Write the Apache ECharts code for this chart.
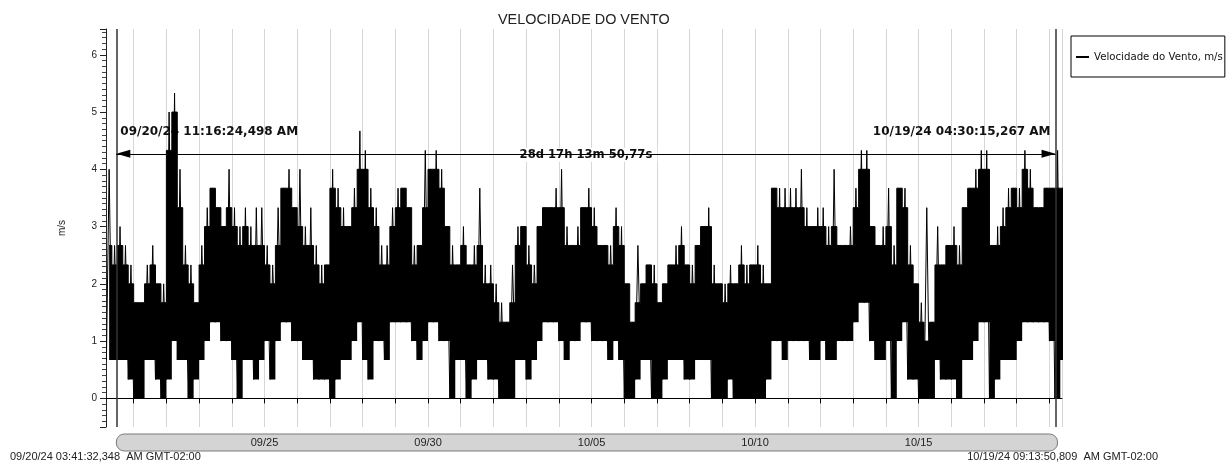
<!DOCTYPE html>
<html><head><meta charset="utf-8">
<script src="https://cdn.jsdelivr.net/npm/echarts@6/dist/echarts.min.js"></script>
<style>html,body{margin:0;padding:0;background:#fff;}#c{width:1226px;height:462px;}</style>
</head><body><div id="c"></div>
<script>
// ---- data ----
const chartTitle = 'VELOCIDADE DO VENTO';
const seriesName = 'Velocidade do Vento, m/s';
const yAxisName = 'm/s';
const firstBinUTC = [2024, 8, 20, 4, 0, 0]; // first 4-hour bin (UTC)
const binHours = 4;
// per 4-hour bin: bottom of the trace (m/s)
const lows = [
0.67,0.67,0.67,0.67,0.33,0,0,0.67,0.67,0.33,
0,0.33,1,0.67,0.67,0,0.33,0.67,1,1.33,
1.33,1,1,0.67,0,0.67,0.67,0.33,0.67,1,
0.33,1,1.33,1.33,1,1,0.67,0.67,0.33,0.33,
0.33,0,0.33,0.67,0.67,1,1.33,0.67,0.33,1,
1,0.67,1.33,1.33,1.33,1.33,1,0.67,1,1.33,
1.33,1,1,0,0.67,0.67,0,0.33,0.67,0.67,
0.33,0.33,0,0,0,0.67,0.67,0.33,0.67,1,
1.33,1.33,1.33,1,0.67,1,1,1.33,1.33,1,
1,1,0.67,1,0.67,0,0,0.33,0.67,0.67,
0,0,0.33,0.67,0.67,0.67,0.33,0.33,0.67,0.67,
0.67,0,0,0,0.33,0,0,0,0,0,
0,0.33,1,1,0.67,1,1,1,1,0.67,
0.67,1,0.67,0.67,1,1,1,1.33,1.67,1.67,
1,0.67,0.67,1,0,1,1.33,0.33,0.33,0,
0,0,0.67,0.33,0.33,0.33,0,0.67,0.67,1,
1.33,1.33,0,0.33,0.67,0.67,0.67,1,1.33,1.33,
1.33,1.33,1.33,1,0,0.67
];
// per bin: top of the solid core of the trace (m/s)
const highs = [
2.67,2.33,2.67,2.33,2,1.67,1.67,2,2.33,2,
1.67,4.33,5,3.33,2.33,2,1.67,2.33,3,3.67,
3.33,3,3.33,3,2.67,3,2.67,2.67,2.67,2.33,
2,2.67,3.67,3.67,3.33,3,2.67,2.67,2.33,2,
2.33,3.67,3.33,3,3,3.33,4,4,3.33,3,
2.33,2.33,3,3.33,3.67,3.33,2.33,2.67,3.33,4,
4,3.67,3,2.33,2.33,2.67,2.33,2.33,2.67,2,
2,1.67,1.33,1.33,1.67,2.67,3,2.33,2,3,
3.33,3.33,3.33,3.33,2.67,2.67,2.67,3.33,3.33,3,
2.67,2.67,2.33,3,2.67,2,1.33,1.67,2,2.33,
2,1.67,2,2.33,2.33,2.67,2.33,2,2.67,3,
3,2,2,1.67,2,2,2.33,2,2.33,2.33,
2,2,3.67,3.33,3.33,3.33,3.33,3.33,3,3,
3,3,2.67,3,2.67,2.67,2.67,3.33,4,4,
3,2.67,2.67,3,2.33,3.67,3.33,2.33,2,1.33,
1,1.33,2.33,2.33,2.67,2.67,2.33,3.33,3.67,3.67,
4,4,2.67,2.67,3,3.33,3.67,3.33,4,3.67,
3.33,3.33,3.67,3.67,3.67,3.67
];
// per bin: tip of the highest thin spike (m/s)
const peaks = [
4,2.67,3,2.67,2.33,1.67,1.67,2.33,2.67,2,
2,5,5.33,4,2.67,2.33,1.67,2.67,3.33,3.67,
3.33,3,4,3.33,3,3.33,3,3.33,3.33,2.67,
2.33,3.33,3.67,4,3.33,4,3,3.33,2.67,2.33,
2.33,4,3.67,3.33,3,3.67,4.67,4.33,3.67,3.33,
2.67,2.67,3.33,3.67,3.67,3.33,2.67,2.67,4.33,4,
4.33,4,3,2.67,2.33,3,2.33,2.67,3.67,2.33,
2.33,2,1.67,1.33,2.33,3,3,2.67,2.33,3,
3.33,3.33,3.67,4,3,2.67,3,3.33,3.67,3.33,
2.67,2.67,2.67,3.33,3,2,1.33,2.67,2,2.33,
2.33,1.67,2,2.33,2.67,3,2.33,2.33,2.67,3,
3.33,2.33,2,2,2.33,2,2.67,2.33,2.33,2.67,
2.33,2,3.67,3.67,3.67,3.67,3.67,4,3.33,3,
3.33,3.33,3,4,2.67,2.67,3,3.67,4.33,4.33,
3,2.67,3,3.67,2.67,3.67,3.67,2.67,2,1.67,
3.33,1.33,3,2.33,2.67,3,2.67,3.33,3.67,4,
4.33,4.33,2.67,3,3.33,3.67,3.67,3.67,4.33,4,
3.33,3.33,3.67,3.67,4.33,3.67
];
const rangeStartUTC = [2024, 8, 20, 3, 41, 32, 348];
const rangeEndUTC = [2024, 9, 19, 9, 13, 50, 809];
const rangeStartLabel = '09/20/24 03:41:32,348  AM GMT-02:00';
const rangeEndLabel = '10/19/24 09:13:50,809  AM GMT-02:00';
const cursorUTC = [[2024, 8, 20, 11, 16, 24, 498], [2024, 9, 19, 4, 30, 15, 267]];
const cursorLabels = ['09/20/24 11:16:24,498 AM', '10/19/24 04:30:15,267 AM'];
const spanLabel = '28d 17h 13m 50,77s';
const arrowLevel = 4.27;
const dayLabels = ['09/25', '09/30', '10/05', '10/10', '10/15'];
const yMin = -0.5, yMax = 6.45;

// ---- build ----
const H = 3600e3;
const t0 = Date.UTC(...firstBinUTC);
const binMid = i => t0 + (i + 0.5) * binHours * H;
const spikeData = [], baseData = [], bandData = [];
lows.forEach((lo, i) => {
  spikeData.push([t0 + i * binHours * H, lo]);
  spikeData.push([binMid(i), peaks[i]]);
  baseData.push([binMid(i), lo]);
  bandData.push([binMid(i), +(highs[i] - lo).toFixed(2)]);
});
const xMin = Date.UTC(...rangeStartUTC), xMax = Date.UTC(...rangeEndUTC);
const c1 = Date.UTC(...cursorUTC[0]), c2 = Date.UTC(...cursorUTC[1]);
const pad = n => (n < 10 ? '0' : '') + n;

const chart = echarts.init(document.getElementById('c'), null, {renderer: 'canvas'});
const baseFont = '"Liberation Sans", Arial, sans-serif';
chart.setOption({
  animation: false,
  useUTC: true,
  backgroundColor: '#fff',
  title: {text: chartTitle, left: 498, top: 13, padding: 0,
    textStyle: {fontFamily: baseFont, fontSize: 14.4, fontWeight: 'normal', color: '#222'}},
  legend: {left: 1071, top: 36, orient: 'vertical', borderColor: '#000', borderWidth: 1,
    padding: [16, 2, 15, 5], itemWidth: 13, itemHeight: 2, icon: 'rect',
    data: [{name: seriesName, itemStyle: {color: '#000'}}],
    textStyle: {fontFamily: '"DejaVu Sans", sans-serif', fontSize: 10.2, color: '#111'}},
  grid: {left: 106, right: 164, top: 29, bottom: 35},
  xAxis: {type: 'time', min: xMin, max: xMax, minInterval: 24 * H, maxInterval: 24 * H,
    axisLine: {lineStyle: {color: '#000', width: 1}},
    axisTick: {show: true, length: 5, lineStyle: {color: '#000'}},
    splitLine: {show: true, lineStyle: {color: '#d6d6d6', width: 1}},
    axisLabel: {margin: 10, fontFamily: baseFont, fontSize: 11, color: '#222', hideOverlap: false,
      formatter: v => {
        const d = new Date(v);
        if (d.getUTCHours() || d.getUTCMinutes() || d.getUTCSeconds()) return '';
        const s = pad(d.getUTCMonth() + 1) + '/' + pad(d.getUTCDate());
        return dayLabels.includes(s) ? s : '';
      }}},
  yAxis: {type: 'value', min: yMin, max: yMax, minInterval: 1, maxInterval: 1,
    name: yAxisName, nameLocation: 'middle', nameGap: 39,
    nameTextStyle: {fontFamily: baseFont, fontSize: 10, color: '#222'},
    axisLine: {show: true, lineStyle: {color: '#222'}},
    axisTick: {show: true, length: 6, lineStyle: {color: '#222'}},
    minorTick: {show: true, splitNumber: 10, length: 4, lineStyle: {color: '#444'}},
    splitLine: {show: false},
    axisLabel: {margin: 9, fontFamily: baseFont, fontSize: 10, color: '#222',
      showMinLabel: false, showMaxLabel: false}},
  series: [
    {name: 'base', type: 'line', stack: 'band', data: baseData, step: 'middle', showSymbol: false,
      symbol: 'none', lineStyle: {opacity: 0, width: 0}, silent: true, z: 2},
    {name: 'core', type: 'line', stack: 'band', data: bandData, step: 'middle', showSymbol: false,
      symbol: 'none', lineStyle: {color: '#000', width: 1}, areaStyle: {color: '#000', opacity: 1},
      silent: true, z: 2},
    {name: seriesName, type: 'line', data: spikeData, showSymbol: false, symbol: 'none',
      sampling: null, lineStyle: {color: '#000', width: 1}, itemStyle: {color: '#000'}, z: 2,
      markLine: {silent: true, symbol: 'none', animation: false, label: {show: false},
        data: [
          [{coord: [c1, yMin], lineStyle: {color: '#333', width: 1.5, type: 'solid'}}, {coord: [c1, yMax]}],
          [{coord: [c2, yMin], lineStyle: {color: '#333', width: 1.5, type: 'solid'}}, {coord: [c2, yMax]}],
          [{coord: [c1, arrowLevel], lineStyle: {color: '#000', width: 1.2, type: 'solid'}}, {coord: [c2, arrowLevel]}]
        ]}}
  ]
});

const x1 = chart.convertToPixel({xAxisIndex: 0}, c1);
const x2 = chart.convertToPixel({xAxisIndex: 0}, c2);
const ya = chart.convertToPixel({yAxisIndex: 0}, arrowLevel);
const yBase = chart.convertToPixel({yAxisIndex: 0}, yMin);
const bold = 'bold 12px "DejaVu Sans", Verdana, sans-serif';
chart.setOption({graphic: [
  {type: 'rect', z: -1, shape: {x: x1, y: yBase + 7, width: x2 - x1 + 2, height: 17, r: 8},
    style: {fill: '#d4d4d4', stroke: '#7a7a7a', lineWidth: 1}},
  {type: 'polygon', z: 3, shape: {points: [[x1, ya], [x1 + 14, ya - 4], [x1 + 14, ya + 4]]}, style: {fill: '#000'}},
  {type: 'polygon', z: 3, shape: {points: [[x2, ya], [x2 - 14, ya - 4], [x2 - 14, ya + 4]]}, style: {fill: '#000'}},
  {type: 'text', z: 1, x: x1 + 4, y: ya - 22, style: {text: cursorLabels[0], font: bold, fill: '#111', verticalAlign: 'middle'}},
  {type: 'text', z: 1, x: x2 - 5, y: ya - 22, style: {text: cursorLabels[1], font: bold, fill: '#111', align: 'right', verticalAlign: 'middle'}},
  {type: 'text', z: 3, x: (x1 + x2) / 2, y: ya + 1, style: {text: spanLabel, font: 'bold 11.6px "DejaVu Sans", Verdana, sans-serif', fill: '#111', align: 'center', verticalAlign: 'middle', backgroundColor: '#fff', padding: [1, 5]}},
  {type: 'text', z: 1, x: 10, y: 457, style: {text: rangeStartLabel, font: '11px "Liberation Sans", Arial', fill: '#222', verticalAlign: 'middle'}},
  {type: 'text', z: 1, x: 1158, y: 457, style: {text: rangeEndLabel, font: '11px "Liberation Sans", Arial', fill: '#222', align: 'right', verticalAlign: 'middle'}}
]});
</script></body></html>
